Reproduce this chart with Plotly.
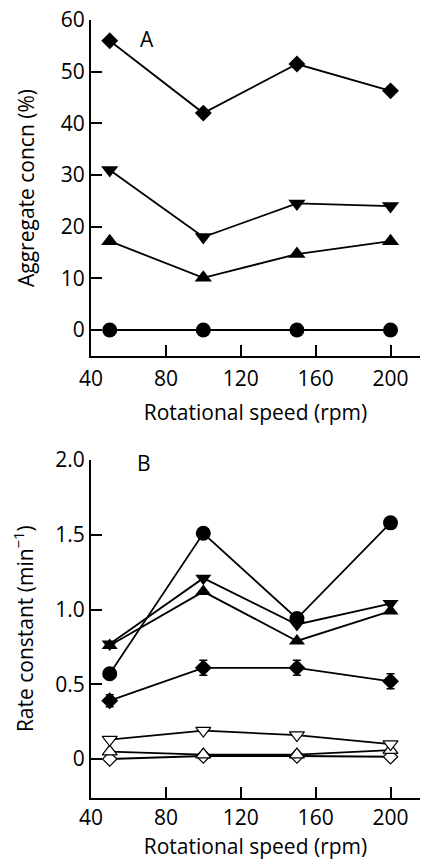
import plotly.graph_objects as go

# ---- data ----
speed = [50, 100, 150, 200]

# Panel A: aggregate concentration (%)
a_diamond = [56.0, 42.0, 51.5, 46.3]
a_tri_down = [31.0, 18.0, 24.5, 24.0]
a_tri_up = [17.2, 10.1, 14.7, 17.2]
a_circle = [0.0, 0.0, 0.0, 0.0]

# Panel B: rate constant (min^-1)
b_circle = [0.57, 1.51, 0.94, 1.58]
b_tri_down = [0.77, 1.21, 0.90, 1.04]
b_tri_up = [0.76, 1.12, 0.79, 0.99]
b_diamond = [0.39, 0.61, 0.61, 0.52]
b_diamond_err = [0.04, 0.05, 0.05, 0.05]
b_open_tri_down = [0.13, 0.19, 0.16, 0.10]
b_open_tri_up = [0.05, 0.03, 0.03, 0.06]
b_open_diamond = [0.0, 0.02, 0.02, 0.015]

x_ticks = [40, 80, 120, 160, 200]
a_yticks = [0, 10, 20, 30, 40, 50, 60]
b_yticks = [0, 0.5, 1.0, 1.5, 2.0]
b_yticktext = ["0", "0.5", "1.0", "1.5", "2.0"]

W, H = 424, 860
FONT = "Open Sans"

def xp(px):
    return px / W

def yp(py):
    return 1 - py / H

fig = go.Figure()

def add(x, y, xa, ya, symbol, size, err=None, open_=False):
    if open_:
        marker = dict(symbol=symbol, size=size, color="white",
                      line=dict(color="black", width=1.2))
    else:
        marker = dict(symbol=symbol, size=size, color="black",
                      line=dict(color="black", width=0))
    kw = {}
    if err is not None:
        kw["error_y"] = dict(type="data", array=err, color="black", thickness=1.5, width=4)
    fig.add_trace(go.Scatter(x=x, y=y, xaxis=xa, yaxis=ya, mode="lines+markers",
                             line=dict(color="black", width=1.8), marker=marker,
                             showlegend=False, **kw))

# Panel A
add(speed, a_circle, "x", "y", "circle", 15)
add(speed, a_tri_up, "x", "y", "triangle-up", 15)
add(speed, a_tri_down, "x", "y", "triangle-down", 15)
add(speed, a_diamond, "x", "y", "diamond", 13)

# Panel B
add(speed, b_open_diamond, "x2", "y2", "diamond", 11, open_=True)
add(speed, b_open_tri_up, "x2", "y2", "triangle-up", 13, open_=True)
add(speed, b_open_tri_down, "x2", "y2", "triangle-down", 13, open_=True)
add(speed, b_diamond, "x2", "y2", "diamond", 13, err=b_diamond_err)
add(speed, b_tri_up, "x2", "y2", "triangle-up", 14)
add(speed, b_tri_down, "x2", "y2", "triangle-down", 14)
add(speed, b_circle, "x2", "y2", "circle", 15)

xdom = [xp(91), xp(420)]
xrange_ = [40, 40 + (420 - 91) / 1.872]
axis_common = dict(showline=True, linecolor="black", linewidth=2, ticks="inside",
                   ticklen=11, tickwidth=2, tickcolor="black", showgrid=False,
                   zeroline=False, automargin=False, ticklabeloverflow="allow",
                   tickfont=dict(family=FONT, size=21, color="black"))
title_font = dict(family=FONT, size=21, color="black")

fig.update_layout(
    template="none",
    width=W, height=H, margin=dict(l=0, r=0, t=0, b=0),
    plot_bgcolor="white", paper_bgcolor="white",
    font=dict(family=FONT, color="black"),
    xaxis=dict(domain=xdom, range=xrange_, tickvals=x_ticks, anchor="y",
               ticklabelstandoff=3,
               title=dict(text="Rotational speed (rpm)", font=title_font, standoff=14),
               **axis_common),
    yaxis=dict(domain=[yp(356), yp(20)], range=[-5.03, 60.02], tickvals=a_yticks,
               anchor="x",
               title=dict(text="Aggregate concn (%)", font=title_font, standoff=20),
               **axis_common),
    xaxis2=dict(domain=xdom, range=xrange_, tickvals=x_ticks, anchor="y2",
                title=dict(text="Rotational speed (rpm)", font=title_font, standoff=17),
                **axis_common),
    yaxis2=dict(domain=[yp(797.5), yp(460)], range=[-0.2575, 2.0005], tickvals=b_yticks,
                ticktext=b_yticktext, anchor="x2",
                title=dict(text="Rate constant (min<sup>−1</sup>)", font=title_font, standoff=16),
                **axis_common),
    annotations=[
        dict(text="A", x=xp(147), y=yp(23), xref="paper", yref="paper",
             showarrow=False, font=title_font),
        dict(text="B", x=xp(144), y=yp(463), xref="paper", yref="paper",
             showarrow=False, font=title_font),
    ],
)

# remove the default 8px page margin so the figure fills the window exactly
fig.write_html("out.html", config={"displayModeBar": False},
               post_script="document.body.style.margin='0';")
